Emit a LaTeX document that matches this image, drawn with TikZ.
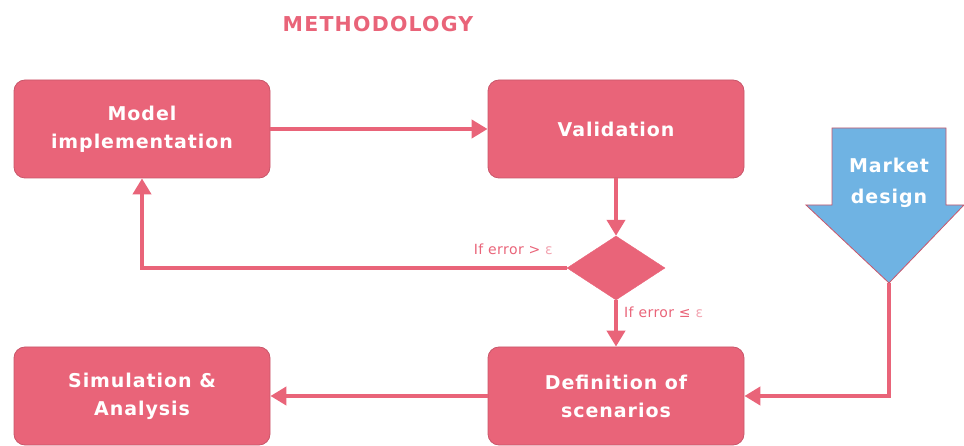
\documentclass[tikz,border=0pt]{standalone}
\usepackage{fontspec}
\setmainfont{DejaVu Sans}
\newfontfamily\wide[LetterSpace=5]{DejaVu Sans}
\newfontfamily\widet[LetterSpace=6]{DejaVu Sans}
\newfontfamily\lblfont[LetterSpace=3]{DejaVu Sans}
\usetikzlibrary{arrows.meta,shapes.geometric}
\definecolor{pk}{HTML}{E96479}
\definecolor{pkd}{HTML}{C9566A}
\definecolor{bl}{HTML}{6FB3E3}
\definecolor{eps}{HTML}{F2A3B0}
\tikzset{
  box/.style={draw=pkd, line width=0.8pt, fill=pk, rounded corners=11pt,
    minimum width=256pt, minimum height=98pt, text=white, align=center,
    font=\wide\fontsize{19}{28}\selectfont\bfseries},
  conn/.style={draw=pk, line width=4pt, -{Triangle[length=16pt,width=18pt]}},
  lbl/.style={text=pk, font=\lblfont\fontsize{14}{16}\selectfont, inner sep=0pt},
}
\begin{document}
\begin{tikzpicture}[x=1pt,y=-1pt]
\useasboundingbox (0,0) rectangle (964,446);
\node[text=pk, font=\widet\fontsize{20.5}{22}\selectfont\bfseries] (title) at (378,24) {METHODOLOGY};
\node[box] (model) at (142,129) {Model\\implementation};
\node[box] (valid) at (616,129) {Validation};
\node[box] (sim) at (142,396) {Simulation \&\\Analysis};
\node[box] (def) at (616,396) {Definition of\\scenarios};
\node[diamond, fill=pk, draw=pk, minimum width=98pt, minimum height=64pt, inner sep=0pt, aspect=1.5] (dia) at (616,268) {};
% market design arrow
\draw[draw=pkd, line width=0.8pt, fill=bl]
  (832,128) -- (946,128) -- (946,205) -- (964,205) -- (889,283) -- (806,205) -- (832,205) -- cycle;
\coordinate (mtip) at (889,283);
\node[text=white, align=center, font=\wide\fontsize{19}{31}\selectfont\bfseries] (mkt) at (889,183) {Market\\design};
% connectors
\draw[conn] (model.east) -- (valid.west);
\draw[conn] (valid.south) -- (dia.north);
\draw[conn] (dia.west) -| (model.south);
\draw[conn] (dia.south) -- (def.north);
\draw[conn] (def.west) -- (sim.east);
\draw[conn] (mtip) |- (def.east);
% labels
\node[lbl, anchor=base east] (l1) at (553,255) {If error > \textcolor{eps}{ε}};
\node[lbl, anchor=base west] (l2) at (624,318) {If error ≤ \textcolor{eps}{ε}};
\end{tikzpicture}
\end{document}
